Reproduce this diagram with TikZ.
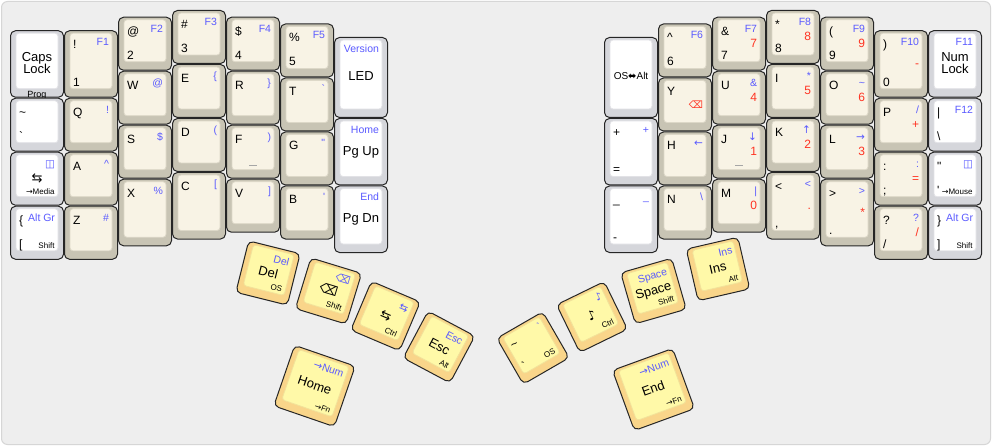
\documentclass[tikz,border=0pt]{standalone}
\usepackage{fontspec}
\setmainfont{Liberation Sans}
\newfontfamily\sym{DejaVu Sans}
\definecolor{bgc}{HTML}{EEEEEE}
\definecolor{bgl}{HTML}{D6D6D6}
\definecolor{bO}{HTML}{C8C4B4}
\definecolor{bF}{HTML}{F8F3E5}
\definecolor{bL}{HTML}{DDD8C8}
\definecolor{wO}{HTML}{D5D6DB}
\definecolor{wF}{HTML}{FFFFFF}
\definecolor{wL}{HTML}{E2E2E6}
\definecolor{yO}{HTML}{F9D58A}
\definecolor{yF}{HTML}{FFF9A8}
\definecolor{yL}{HTML}{F2E29A}
\definecolor{kblue}{HTML}{5A5AFF}
\definecolor{kred}{HTML}{FF3322}
\newcommand\fA{\fontsize{12}{12}\selectfont}
\newcommand\fB{\fontsize{10.5}{10.5}\selectfont}
\newcommand\fS{\fontsize{8}{8}\selectfont}
\newcommand\fC{\fontsize{13}{12}\selectfont}
\newcommand\fM{\fontsize{10}{10}\selectfont}
\newcommand\fF{\fontsize{9}{9}\selectfont}
\newcommand\keyshape[1]{%
  \draw[#1O] (0.5,0.5) rectangle (\kw-0.5,\kh-0.5);
  \draw[#1F] (6,3) rectangle (\kw-6,\kh-9);}
\newcommand\key[6]{%
  \pgfmathsetmacro\kx{10+54*#1}\pgfmathsetmacro\ky{10+54*#2}%
  \pgfmathsetmacro\kw{54*#3}\pgfmathsetmacro\kh{54*#4}%
  \begin{scope}[shift={(\kx,\ky)}]
    \keyshape{#5}#6
  \end{scope}}
\newcommand\rkey[6]{%
  \pgfmathsetmacro\kw{#4}\pgfmathsetmacro\kh{#4}%
  \begin{scope}[shift={(#1,#2)}, rotate=#3, transform shape, shift={(-\kw/2,-\kh/2)}]
    \keyshape{#5}#6
  \end{scope}}
\newcommand\kTL[1]{\node[lab,anchor=base west,font=\fA] at (9,18.5) {#1};}
\newcommand\kTR[1]{\node[lab,anchor=base east,font=\fB,text=kblue] at (\kw-9,15.5) {#1};}
\newcommand\kBL[1]{\node[lab,anchor=base west,font=\fA] at (9,\kh-11.5) {#1};}
\newcommand\kBR[1]{\node[lab,anchor=base east,font=\fS] at (\kw-9.5,\kh-11.5) {#1};}
\newcommand\kCR[1]{\node[lab,anchor=base east,font=\fA,text=kred] at (\kw-9,\kh/2+4) {#1};}
\newcommand\kCC[1]{\node[lab,anchor=base,font=\fC] at (\kw/2,\kh/2+3.5) {#1};}
\newcommand\kCM[1]{\node[lab,anchor=base,font=\fM] at (\kw/2,\kh/2+2.5) {#1};}
\newcommand\kCCtwo[2]{\node[lab,anchor=base,font=\fC] at (\kw/2,\kh/2-2.3) {#1};
  \node[lab,anchor=base,font=\fC] at (\kw/2,\kh/2+9.3) {#2};}
\newcommand\kFR[1]{\node[lab,anchor=base,font=\fF] at (\kw/2,\kh-0.6) {#1};}
\newcommand\khome{\draw[homing] (\kw/2-4,\kh-13) -- (\kw/2+4,\kh-13);}
\begin{document}
\begin{tikzpicture}[x=1pt,y=-1pt,
  lab/.style={inner sep=0pt,outer sep=0pt},
  bO/.style={fill=bO,draw=black!85,line width=1pt,rounded corners=5pt},
  bF/.style={fill=bF,draw=bL,line width=0.8pt,rounded corners=3pt},
  wO/.style={fill=wO,draw=black!85,line width=1pt,rounded corners=5pt},
  wF/.style={fill=wF,draw=wL,line width=0.8pt,rounded corners=3pt},
  yO/.style={fill=yO,draw=black!85,line width=1pt,rounded corners=5pt},
  yF/.style={fill=yF,draw=yL,line width=0.8pt,rounded corners=3pt},
  homing/.style={draw=black!35,line width=0.9pt}]
\useasboundingbox (0,0) rectangle (992,446);
\fill[white] (0,0) rectangle (992,446);
\draw[fill=bgc,draw=bgl,line width=1pt,rounded corners=6pt] (1.5,1.5) rectangle (990.5,444.5);
% left hand
\key{0}{.375}{1}{1.25}{w}{\kCCtwo{Caps}{Lock}\kFR{Prog}}
\key{0}{1.625}{1}{1}{w}{\kTL{\textasciitilde}\kBL{\textasciigrave}}
\key{0}{2.625}{1}{1}{w}{\kTR{\sym ◫}\kCC{\sym ⇆}\kBR{{\sym →}Media}}
\key{0}{3.625}{1}{1}{w}{\kTL{\{}\kTR{Alt Gr}\kBL{[}\kBR{Shift}}
\key{1}{.375}{1}{1.25}{b}{\kTL{!}\kTR{F1}\kBL{1}}
\key{1}{1.625}{1}{1}{b}{\kTL{Q}\kTR{!}}
\key{1}{2.625}{1}{1}{b}{\kTL{A}\kTR{\textasciicircum}}
\key{1}{3.625}{1}{1}{b}{\kTL{Z}\kTR{\#}}
\key{2}{.125}{1}{1}{b}{\kTL{@}\kTR{F2}\kBL{2}}
\key{2}{1.125}{1}{1}{b}{\kTL{W}\kTR{@}}
\key{2}{2.125}{1}{1}{b}{\kTL{S}\kTR{\$}}
\key{2}{3.125}{1}{1.25}{b}{\kTL{X}\kTR{\%}}
\key{3}{0}{1}{1}{b}{\kTL{\#}\kTR{F3}\kBL{3}}
\key{3}{1}{1}{1}{b}{\kTL{E}\kTR{\{}}
\key{3}{2}{1}{1}{b}{\kTL{D}\kTR{(}}
\key{3}{3}{1}{1.25}{b}{\kTL{C}\kTR{[}}
\key{4}{.125}{1}{1}{b}{\kTL{\$}\kTR{F4}\kBL{4}}
\key{4}{1.125}{1}{1}{b}{\kTL{R}\kTR{\}}}
\key{4}{2.125}{1}{1}{b}{\kTL{F}\kTR{)}\khome}
\key{4}{3.125}{1}{1}{b}{\kTL{V}\kTR{]}}
\key{5}{.25}{1}{1}{b}{\kTL{\%}\kTR{F5}\kBL{5}}
\key{5}{1.25}{1}{1}{b}{\kTL{T}\kTR{\textasciigrave}}
\key{5}{2.25}{1}{1}{b}{\kTL{G}\kTR{\textquotedbl}}
\key{5}{3.25}{1}{1}{b}{\kTL{B}\kTR{\textquotesingle}}
\key{6}{.5}{1}{1.5}{w}{\kTR{Version}\kCC{LED}}
\key{6}{2}{1}{1.25}{w}{\kTR{Home}\kCC{Pg Up}}
\key{6}{3.25}{1}{1.25}{w}{\kTR{End}\kCC{Pg Dn}}
% right hand
\key{11}{.5}{1}{1.5}{w}{\kCM{OS{\sym ⬌}Alt}}
\key{11}{2}{1}{1.25}{w}{\kTL{+}\kTR{+}\kBL{=}}
\key{11}{3.25}{1}{1.25}{w}{\kTL{\_}\kTR{\_}\kBL{-}}
\key{12}{.25}{1}{1}{b}{\kTL{\textasciicircum}\kTR{F6}\kBL{6}}
\key{12}{1.25}{1}{1}{b}{\kTL{Y}\kCR{\fM\sym ⌫}}
\key{12}{2.25}{1}{1}{b}{\kTL{H}\kTR{\sym ←}}
\key{12}{3.25}{1}{1}{b}{\kTL{N}\kTR{\textbackslash}}
\key{13}{.125}{1}{1}{b}{\kTL{\&}\kTR{F7}\kCR{7}\kBL{7}}
\key{13}{1.125}{1}{1}{b}{\kTL{U}\kTR{\&}\kCR{4}}
\key{13}{2.125}{1}{1}{b}{\kTL{J}\kTR{\sym ↓}\kCR{1}\khome}
\key{13}{3.125}{1}{1}{b}{\kTL{M}\kTR{|}\kCR{0}}
\key{14}{0}{1}{1}{b}{\kTL{*}\kTR{F8}\kCR{8}\kBL{8}}
\key{14}{1}{1}{1}{b}{\kTL{I}\kTR{*}\kCR{5}}
\key{14}{2}{1}{1}{b}{\kTL{K}\kTR{\sym ↑}\kCR{2}}
\key{14}{3}{1}{1.25}{b}{\kTL{<}\kTR{<}\kCR{.}\kBL{,}}
\key{15}{.125}{1}{1}{b}{\kTL{(}\kTR{F9}\kCR{9}\kBL{9}}
\key{15}{1.125}{1}{1}{b}{\kTL{O}\kTR{\textasciitilde}\kCR{6}}
\key{15}{2.125}{1}{1}{b}{\kTL{L}\kTR{\sym →}\kCR{3}}
\key{15}{3.125}{1}{1.25}{b}{\kTL{>}\kTR{>}\kCR{*}\kBL{.}}
\key{16}{.375}{1}{1.25}{b}{\kTL{)}\kTR{F10}\kCR{-}\kBL{0}}
\key{16}{1.625}{1}{1}{b}{\kTL{P}\kTR{/}\kCR{+}}
\key{16}{2.625}{1}{1}{b}{\kTL{:}\kTR{:}\kCR{=}\kBL{;}}
\key{16}{3.625}{1}{1}{b}{\kTL{?}\kTR{?}\kCR{/}\kBL{/}}
\key{17}{.375}{1}{1.25}{w}{\kTR{F11}\kCCtwo{Num}{Lock}}
\key{17}{1.625}{1}{1}{w}{\kTL{|}\kTR{F12}\kBL{\textbackslash}}
\key{17}{2.625}{1}{1}{w}{\kTL{\textquotedbl}\kTR{\sym ◫}\kBL{\textquotesingle}\kBR{{\sym →}Mouse}}
\key{17}{3.625}{1}{1}{w}{\kTL{\}}\kTR{Alt Gr}\kBL{]}\kBR{Shift}}
% thumb clusters
\rkey{268}{273}{-14}{54}{y}{\kTR{Del}\kCC{Del}\kBR{OS}}
\rkey{328.5}{291}{-17}{54}{y}{\kTR{\sym ⌫}\kCC{\sym ⌫}\kBR{Shift}}
\rkey{385.5}{316}{-23}{54}{y}{\kTR{\sym ⇆}\kCC{\sym ⇆}\kBR{Ctrl}}
\rkey{439}{347}{-28}{54}{y}{\kTR{Esc}\kCC{Esc}\kBR{Alt}}
\rkey{314.5}{386}{-19}{65}{y}{\kTR{{\sym →}Num}\kCC{Home}\kBR{{\sym →}Fn}}
\rkey{533}{348}{30}{54}{y}{\kTL{\textasciitilde}\kTR{\textasciigrave}\kBL{\textasciigrave}\kBR{OS}}
\rkey{592}{317}{26}{54}{y}{\kTR{\sym ♪}\kCC{\sym ♪}\kBR{Ctrl}}
\rkey{653.5}{291}{16}{54}{y}{\kTR{Space}\kCC{Space}\kBR{Shift}}
\rkey{718}{269}{13}{54}{y}{\kTR{Ins}\kCC{Ins}\kBR{Alt}}
\rkey{653.5}{389.5}{20}{65}{y}{\kTR{{\sym →}Num}\kCC{End}\kBR{{\sym →}Fn}}
\end{tikzpicture}
\end{document}
